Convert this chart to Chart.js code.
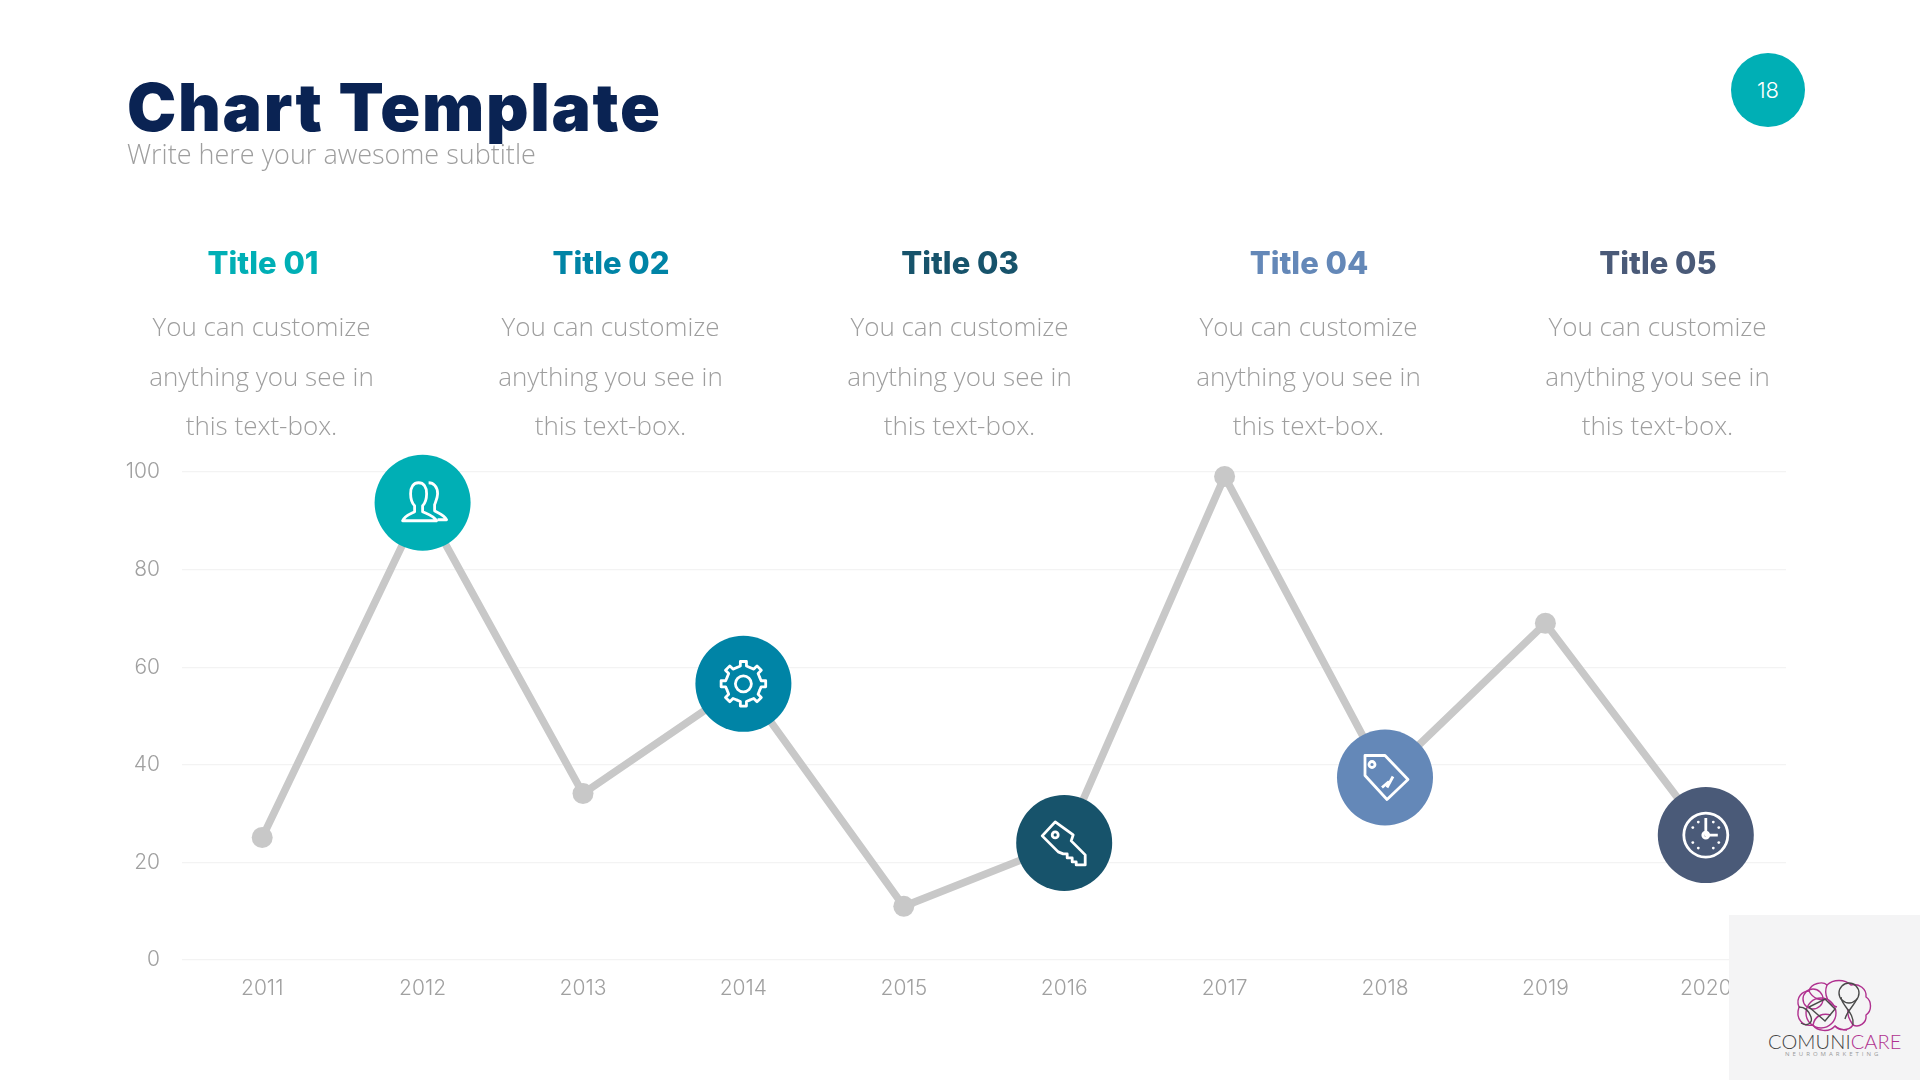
<!DOCTYPE html>
<html><head><meta charset="utf-8">
<script src="https://cdn.jsdelivr.net/npm/chart.js@4"></script>
<style>
html,body{margin:0;padding:0;background:#fff;width:1920px;height:1080px;overflow:hidden}
#c{position:absolute;left:0;top:0}
.t{position:absolute;white-space:nowrap;transform:translate(-50%,-50%);text-align:center}
#h1{position:absolute;left:127px;top:70px;font:900 66px/1.15 Inter,sans-serif;color:#0A2353;white-space:nowrap;letter-spacing:1.7px}
#sub{position:absolute;left:127px;top:134px;font:300 27px/1.5 "Open Sans",sans-serif;color:#9e9e9e;white-space:nowrap}
#pg{position:absolute;left:1731px;top:53px;width:74px;height:74px;border-radius:50%;background:#00AFB5;color:#fff;font:300 22px/74px Inter,sans-serif;text-align:center}
#logo{position:absolute;left:1729px;top:915px;width:191px;height:165px;background:#F4F4F5}
#logo svg{position:absolute;left:0;top:0}
#lg1{position:absolute;left:39px;top:113px;font:300 20px/26px Lato,sans-serif;color:#444;white-space:nowrap;letter-spacing:.1px}
#lg1 b{font-weight:300;color:#B0318F}
#lg2{position:absolute;left:56px;top:134px;font:400 6px/10px "Open Sans",sans-serif;color:#999;white-space:nowrap;letter-spacing:3px}
</style></head><body>
<canvas id="c" width="1920" height="1080"></canvas>
<div id="h1">Chart Template</div>
<div id="sub">Write here your awesome subtitle</div>
<div id="pg">18</div>
<div id="txt"></div>
<div id="logo">
<svg width="191" height="165" fill="none" stroke-width="1.4">
<g stroke="#B0318F">
<path d="M70 92C66 82 74 76 80 76C82 68 94 66 98 70C104 64 116 64 122 70C130 68 138 74 137 82C143 86 143 96 137 100C138 108 130 113 124 110C120 116 110 116 106 111C100 118 88 116 84 110C74 112 66 104 70 92Z"/>
<path d="M80 76C84 84 92 86 98 84M98 70C94 80 100 90 108 92M84 110C86 100 94 98 102 100M106 111C110 114 114 115 118 115M124 110C120 104 118 100 119 94"/>
<circle cx="92" cy="98" r="15"/><circle cx="84" cy="84" r="10"/>
</g>
<g stroke="#4a4a4a">
<circle cx="120" cy="78" r="10"/>
<path d="M70 92C76 92 80 96 82 102C84 108 78 112 72 108M112 82C112 90 126 98 124 110M128 84C124 92 118 96 116 104M80 92L96 106L106 94L96 84Z"/>
</g>
</svg>
<div id="lg1">COMUNI<b>CARE</b></div>
<div id="lg2">NEUROMARKETING</div>
</div>
<script>
const categories=['2011','2012','2013','2014','2015','2016','2017','2018','2019','2020'];
const values=[25.1,93.7,34.1,56.6,11,24,99.1,37.4,69,25.6];
const pointColors=['#C8C8C8','#00AFB5','#C8C8C8','#0084A6','#C8C8C8','#17536B','#C8C8C8','#6488B8','#C8C8C8','#4A5A78'];
const pointRadii=[10.5,48,10.5,48,10.5,48,10.5,48,10.5,48];
const icons=[null,'people',null,'gear',null,'key',null,'tag',null,'clock'];
const yTicks=[0,20,40,60,80,100];
const titles=['Title 01','Title 02','Title 03','Title 04','Title 05'];
const titleColors=['#00AFB5','#0084A6','#17536B','#6488B8','#4A5A78'];
const bodyLines=['You can customize','anything you see in','this text-box.'];
const titleX=[263,611,960,1309,1658];
const bodyX=[261.5,610.5,959.5,1308.5,1657.5];
const bodyY=[326,376,425];

const box=document.getElementById('txt');
function put(s,x,y,css){const d=document.createElement('div');d.className='t';d.textContent=s;d.style.cssText='left:'+x+'px;top:'+y+'px;'+css;box.appendChild(d);}
titles.forEach((s,i)=>{
  put(s,titleX[i],263,'font:800 31px/1.2 Inter,sans-serif;color:'+titleColors[i]);
  bodyLines.forEach((l,j)=>put(l,bodyX[i],bodyY[j],'font:300 26px/1.4 "Open Sans",sans-serif;color:#9e9e9e'));
});

function gearPath(){
  const p=new Path2D();const n=8;
  for(let i=0;i<n;i++){
    const a=i*2*Math.PI/n-Math.PI/2,w=0.17;
    const pts=[[a-2.4*w,17.5],[a-w,18],[a-w*.8,22.5],[a+w*.8,22.5],[a+w,18],[a+2.4*w,17.5]];
    pts.forEach((q,k)=>{const x=q[1]*Math.cos(q[0]),y=q[1]*Math.sin(q[0]);(i===0&&k===0)?p.moveTo(x,y):p.lineTo(x,y);});
  }
  p.closePath();p.moveTo(8,0);p.arc(0,0,8,0,Math.PI*2);return p;
}
const iconPaths={
  people:new Path2D('M-20 18C-18 13-12 11-8 9L-8 3C-11 0-12-5-12-9C-12-16-9-20-4-20C1-20 4-16 4-9C4-5 3 0 0 3L0 9C4 11 11 13 14 18ZM6-20C11-20 15-16 15-9C15-5 13-1 12 2L12 8C15 10 22 12 24 17L15 17'),
  gear:gearPath(),
  key:new Path2D('M-9-21L9-8L7-2L21 12L21 22L12 22L12 19L8 19L8 15L3 15L3 11L-1 11L-6 9L-22-7ZM-6-8A3 3 0 1 1-12-8A3 3 0 1 1-6-8Z'),
  tag:new Path2D('M-20-22L0-22L23 2L2 22L-20-2ZM-10-13A3 3 0 1 1-16-13A3 3 0 1 1-10-13ZM-3 10L4 4M2 10L8-1'),
  clock:new Path2D('M22 0A22 22 0 1 1-22 0A22 22 0 1 1 22 0ZM0-17L0 0L12 0M3 0A3 3 0 1 1-3 0A3 3 0 1 1 3 0Z')
};
const iconPlugin={id:'icons',afterDatasetsDraw(ch){
  const ctx=ch.ctx,meta=ch.getDatasetMeta(0);
  meta.data.forEach((el,i)=>{
    const k=icons[i];if(!k)return;
    ctx.save();ctx.translate(el.x,el.y);ctx.strokeStyle='#fff';ctx.lineWidth=2.8;ctx.lineJoin='round';
    ctx.stroke(iconPaths[k]);
    if(k==='clock'){ctx.fillStyle='#fff';for(let h=0;h<12;h++){if(h%3===0)continue;const a=h*Math.PI/6;ctx.beginPath();ctx.arc(15*Math.sin(a),-15*Math.cos(a),1.4,0,7);ctx.fill();}}
    ctx.restore();
  });
}};
new Chart(document.getElementById('c'),{
  type:'line',plugins:[iconPlugin],
  data:{labels:categories,datasets:[{data:values,clip:false,borderColor:'#C8C8C8',borderWidth:7.5,tension:0,fill:false,
    pointBackgroundColor:pointColors,pointBorderColor:pointColors,pointBorderWidth:0,pointRadius:pointRadii,pointHoverRadius:pointRadii}]},
  options:{responsive:false,animation:false,devicePixelRatio:1,
    layout:{padding:{top:472,left:0,right:134,bottom:0}},
    plugins:{legend:{display:false},tooltip:{enabled:false},title:{display:false}},
    scales:{
      x:{offset:true,grid:{display:false},border:{display:false},
        ticks:{color:'#A0A0A0',font:{family:'Inter',size:21,weight:'300'},padding:8,maxRotation:0,autoSkip:false},
        afterFit(s){s.height=120;}},
      y:{min:0,max:100,afterBuildTicks(s){s.ticks=yTicks.map(v=>({value:v}));},
        grid:{color:'#F3F3F3',lineWidth:1.2,drawTicks:false},border:{display:false},
        ticks:{color:'#A0A0A0',font:{family:'Inter',size:21,weight:'300'},padding:22},
        afterFit(s){s.width=182;}}
    }}
});
</script>
</body></html>
